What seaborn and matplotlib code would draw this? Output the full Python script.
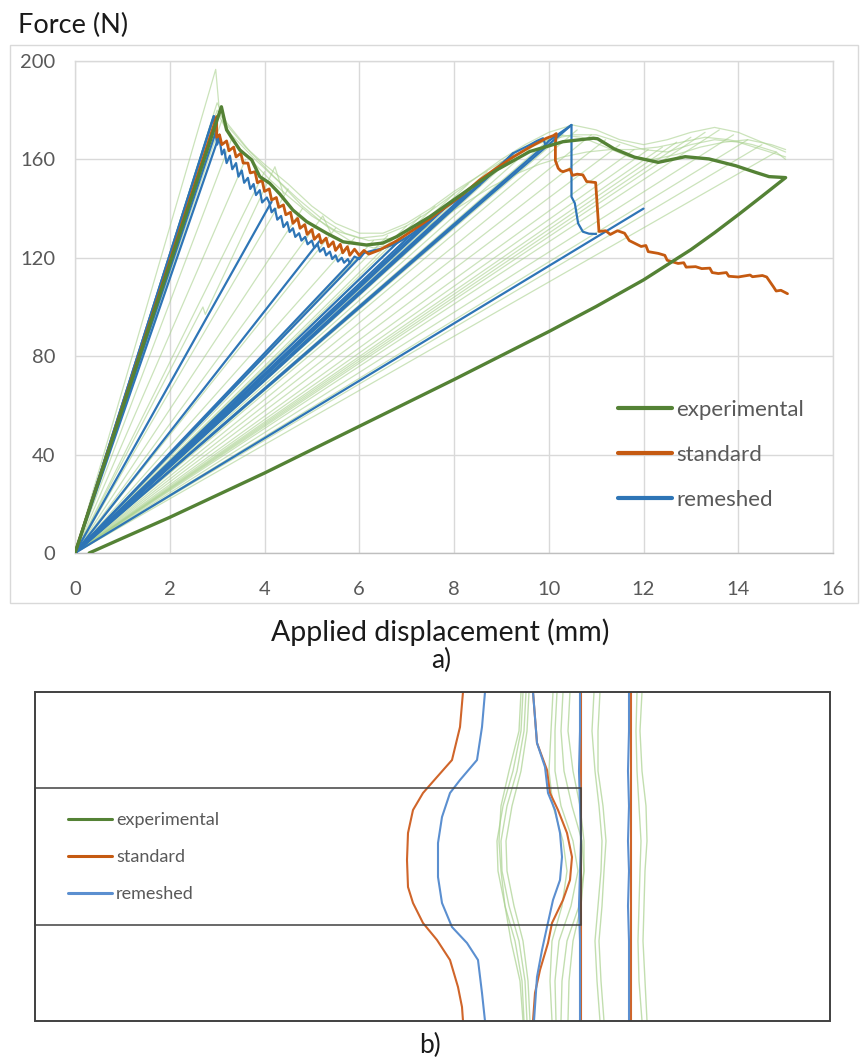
import numpy as np
import pandas as pd
import matplotlib
matplotlib.use("Agg")
import matplotlib.pyplot as plt
import seaborn as sns
from matplotlib.lines import Line2D
from matplotlib.patches import Rectangle

# ---------------- colours ----------------
GREEN = "#548235"
ORANGE = "#c55a11"
BLUE = "#2e75b6"
PALE = "#a9d18e"
ORANGE_B = "#d0652a"
BLUE_B = "#5b8fd0"
GRID = "#d9d9d9"
TXT = "#595959"

# ---------------- a) force / displacement ----------------
# mean experimental curve (loading, softening, unloading)
exp_x = [0, 3.09, 3.2, 3.48, 3.73, 3.9, 4.11, 4.32, 4.6, 4.89, 5.31, 5.66, 6.0, 6.15, 6.5, 6.79,
         7.49, 8.19, 8.9, 9.6, 10.3, 10.94, 11.03, 11.38, 11.81, 12.31, 12.88, 13.38, 13.95,
         14.37, 14.65, 15.0, 14.5, 14.0, 13.5, 13.0, 12.0, 11.0, 10.0, 8.0, 6.0, 4.0, 2.0, 1.0, 0.3]
exp_y = [0, 181.4, 172, 163.8, 159.8, 153, 150.3, 146, 139.4, 134.7, 130, 126.5, 125.6, 125.2, 126,
         128.6, 136.7, 146.2, 155.7, 163.2, 167.2, 168.6, 168.4, 164.3, 160.9, 158.8, 161.1, 160.2,
         157.4, 154.7, 153, 152.6, 145, 137.5, 130.2, 123.3, 111, 100.2, 90, 70.5, 51.5, 32.5, 14.5,
         6, 0]

# standard model
std_x = [0, 2.99, 2.99, 3.05, 3.1, 3.2, 3.25, 3.35, 3.4, 3.5, 3.55, 3.65, 3.7, 3.8, 3.85, 3.95,
         4.0, 4.1, 4.15, 4.25, 4.3, 4.4, 4.45, 4.55, 4.6, 4.7, 4.75, 4.85, 4.9, 5.0, 5.05, 5.15,
         5.2, 5.3, 5.35, 5.45, 5.5, 5.6, 5.65, 5.75, 5.8, 5.9, 6.0, 6.1, 6.2, 6.43, 6.8, 7.14,
         7.5, 7.84, 8.2, 8.54, 8.9, 9.25, 9.6, 9.95, 10.1, 10.16, 10.14, 10.14, 10.2, 10.25, 10.3,
         10.45, 10.5, 10.6, 10.72, 10.8, 10.99, 11.06, 11.2, 11.3, 11.45, 11.6, 11.7, 11.95,
         12.05, 12.1, 12.31, 12.45, 12.5, 12.73, 12.85, 12.9, 13.1, 13.23, 13.4, 13.45, 13.58,
         13.75, 13.8, 14.0, 14.25, 14.3, 14.51, 14.6, 14.65, 14.75, 14.8, 14.9, 15.04]
std_y = [0, 177.4, 169, 170, 166, 167.5, 163.5, 165, 161, 162.5, 158.5, 158.5, 154.5, 155, 150.5,
         151.5, 147, 148, 143.5, 144.5, 140.5, 141.5, 137.5, 138.5, 134, 136, 132, 133.5, 129.5,
         131.5, 127.5, 129.5, 126, 128, 124.5, 126.5, 123, 125.5, 122, 124.5, 121, 123.5, 121,
         123, 121.5, 123.2, 127, 131.3, 136, 140.8, 146, 151.6, 156.5, 161, 165, 168.6, 169.7,
         170.5, 166.5, 159.5, 156.4, 155.4, 155, 156, 153.5, 154, 153.7, 151, 150.6, 130.7, 131,
         129.5, 131, 130, 127, 124.6, 125, 122.5, 121.8, 121, 119, 117.7, 118, 116.2, 116.4,
         115.6, 115.8, 114, 113.6, 114, 112.5, 112.2, 113, 112.3, 112.8, 112.2, 110.8, 108,
         106.5, 106.8, 105.4]

# remeshed model
rem_x = [0, 2.93, 2.97, 3.0, 3.05, 3.1, 3.15, 3.2, 3.27, 3.32, 3.4, 3.45, 3.52, 3.57, 3.65, 3.7,
         3.77, 3.82, 3.9, 3.95, 4.05, 4.1, 4.15, 4.22, 4.27, 4.35, 4.4, 4.48, 4.53, 4.6, 4.65,
         4.73, 4.78, 4.86, 4.91, 5.0, 5.05, 5.12, 5.17, 5.25, 5.3, 5.38, 5.43, 5.5, 5.55, 5.63,
         5.68, 5.76, 5.8, 5.9, 6.0, 6.1, 6.3, 6.5, 6.79, 7.1, 7.49, 7.84, 8.2, 8.54, 8.9, 9.25,
         9.6, 9.75, 9.88, 9.93, 10.0, 10.48, 10.48, 10.55, 10.62, 10.72, 10.85, 11.0]
rem_y = [0, 177.6, 171, 166, 168.5, 162, 164, 158.5, 161.5, 156, 158.5, 153, 155.5, 150.5, 152.5,
         148, 150, 145.5, 147.5, 142.5, 144.5, 142.5, 138.5, 140, 135.5, 137, 132.5, 134.5, 130.5,
         132, 128.5, 130, 127, 128.5, 125.5, 127, 124, 125.5, 122.5, 124, 121, 122.5, 119.5,
         121, 118.5, 120, 118, 119.5, 117.8, 120.5, 119.5, 122, 123, 123.8, 125.9, 129.5, 135.4,
         140.8, 145, 149.6, 156, 162.5, 165.9, 167.5, 168.6, 165.9, 167.5, 174, 144.8, 142.2,
         134, 130.6, 129.8, 129.7]
# remeshed unloading points (secant lines back to the origin)
rem_fan_x = [2.93, 2.97, 3.05, 4.15, 5.17, 5.8, 6.1, 6.79, 7.1, 7.49, 7.84, 8.2, 8.54, 9.25,
             9.93, 10.48, 12.0]
rem_fan_y = [177.6, 171, 170, 142.8, 127, 117.8, 122, 125.9, 129.5, 135.4, 140.8, 145, 149.6,
             162.5, 165.9, 174, 140]

# individual specimens (pale)
spec_a_x = [0, 2.97, 3.06, 3.3, 3.7, 4.1, 4.5, 5.0, 5.5, 6.0, 6.5, 7.0, 7.5, 8.0, 8.5, 9.0, 9.5,
            10.0, 10.5, 11.0, 11.5, 12.0, 12.5, 13.0, 13.5, 14.0, 14.5, 15.0]
spec_a_y = [0, 196.6, 177, 168, 160, 152, 145, 137, 131, 128, 129, 133, 139, 146, 153, 160, 166,
            171, 174, 172, 168, 166, 168, 171, 173, 171, 167, 163]
spec_b_x = [0, 3.0, 3.2, 3.6, 4.0, 4.5, 5.0, 5.5, 6.0, 6.5, 7.0, 7.5, 8.0, 8.5, 9.0, 9.5, 10.0,
            10.5, 11.0, 11.5, 12.0, 12.5, 13.0, 13.5, 14.0, 14.5, 15.0]
spec_b_y = [0, 180, 174, 165, 158, 150, 141, 134, 130, 130, 134, 140, 147, 153, 159, 164, 168,
            170, 170, 167, 164, 163, 166, 168, 167, 164, 161]
spec_c_x = [0, 3.1, 3.3, 3.8, 4.3, 4.8, 5.3, 5.8, 6.3, 6.8, 7.3, 7.8, 8.3, 8.8, 9.3, 9.8, 10.3,
            10.8, 11.3, 11.8, 12.3, 12.8, 13.3, 13.8, 14.3, 14.8, 15.0]
spec_c_y = [0, 176, 170, 160, 151, 141, 133, 127, 124, 126, 131, 137, 143, 149, 154, 158, 161,
            163, 164, 164, 165, 167, 169, 168, 166, 163, 160]
spec_d_x = [0, 3.0, 3.2, 3.7, 4.2, 4.7, 5.2, 5.7, 6.2, 6.7, 7.2, 7.7, 8.2, 8.7, 9.2, 9.7, 10.2,
            10.7, 11.2, 11.7, 12.2, 12.7, 13.2, 13.7, 14.2, 14.7, 15.0]
spec_d_y = [0, 183, 175, 163, 153, 144, 136, 130, 127, 128, 132, 139, 146, 153, 160, 166, 170,
            169, 165, 161, 160, 162, 165, 167, 168, 166, 164]
# reload overshoots
spike_1_x = [0, 2.7, 2.75, 4.22, 4.4]
spike_1_y = [0, 100, 97, 157, 146]
spike_2_x = [0, 5.23, 5.4]
spike_2_y = [0, 137, 130]
# experimental unloading points
exp_fan_x = [3.3, 3.6, 4.0, 4.5, 4.8, 5.5, 5.9, 6.3, 6.6, 7.0, 7.3, 7.6, 8.0, 8.3, 8.7, 9.0, 9.3,
             9.7, 10.0, 10.3, 10.6, 10.9, 11.2, 11.5, 11.8, 12.1, 12.4, 12.7, 13.0, 13.3, 13.6,
             13.9, 14.2, 14.5, 14.8]
exp_fan_y = [168, 160, 155, 148, 140, 132, 128, 127, 129, 133, 137, 141, 146, 150, 155, 159, 162,
             166, 168, 170, 172, 170, 168, 166, 164, 164, 165, 167, 169, 171, 172, 170, 168, 166,
             163]

# ---------------- b) crack fronts (plate coordinates) ----------------
plate_w, plate_h = 795, 329
inner_w, inner_y0, inner_y1 = 546, 96, 233

std_front_1_x = [428, 425, 417, 402, 388, 378, 373, 372, 373, 378, 388, 402, 415, 423, 427, 428]
std_front_1_y = [329, 294, 261, 244, 228, 211, 188, 161, 134, 118, 98, 81, 61, 34, 14, 0]
rem_front_1_x = [450, 447, 442, 425, 415, 407, 403, 403, 407, 417, 432, 443, 447, 450]
rem_front_1_y = [329, 294, 261, 241, 228, 204, 178, 144, 118, 94, 78, 61, 28, 0]
std_front_2_x = [498, 502, 512, 515, 523, 532, 537, 535, 528, 517, 513, 505, 500, 498]
std_front_2_y = [329, 278, 251, 228, 211, 188, 164, 141, 121, 98, 78, 51, 28, 0]
rem_front_2_x = [498, 502, 510, 513, 520, 525, 527, 525, 518, 512, 507, 502, 499]
rem_front_2_y = [329, 278, 254, 228, 211, 188, 164, 141, 121, 94, 71, 44, 0]
front_levels = [329, 290, 250, 215, 180, 150, 115, 80, 40, 0]
std_front_3_x = [546, 546, 546, 546, 546, 546, 546, 546, 546, 546]
rem_front_3_x = [545, 545, 544, 545, 546, 545, 544, 545, 545, 545]
std_front_4_x = [596, 596, 596, 596, 596, 596, 596, 596, 596, 596]
rem_front_4_x = [594, 594, 593, 594, 593, 594, 593, 594, 594, 594]
exp_fronts_x = [
    [488, 486, 478, 468, 462, 463, 470, 480, 487, 489],
    [491, 489, 482, 472, 466, 467, 474, 484, 490, 492],
    [494, 492, 486, 477, 471, 472, 479, 488, 493, 495],
    [486, 484, 474, 466, 464, 466, 470, 476, 485, 488],
    [518, 516, 514, 518, 528, 532, 527, 517, 515, 517],
    [522, 520, 520, 526, 538, 543, 536, 524, 520, 521],
    [528, 526, 529, 537, 547, 549, 544, 532, 527, 526],
    [535, 533, 538, 545, 549, 549, 546, 538, 534, 533],
    [559, 557, 560, 564, 567, 566, 563, 560, 562, 565],
    [565, 563, 563, 568, 571, 569, 567, 564, 566, 569],
    [602, 601, 602, 604, 606, 605, 604, 603, 604, 607],
    [607, 605, 607, 611, 612, 610, 609, 608, 610, 612],
]


def long_df(paths):
    frames = [pd.DataFrame({"x": xs, "y": ys, "unit": i}) for i, (xs, ys) in enumerate(paths)]
    return pd.concat(frames, ignore_index=True)


def fan_df(xs, ys):
    return long_df([([0, xe], [0, ye]) for xe, ye in zip(xs, ys)])


def draw(ax, df, **kw):
    sns.lineplot(data=df, x="x", y="y", units="unit", estimator=None, sort=False,
                 legend=False, ax=ax, **kw)


sns.set_theme(style="white")
plt.rcParams['font.family'] = ['Lato', 'DejaVu Sans']

fig = plt.figure(figsize=(8.64, 10.63), dpi=100)
fig.patch.set_facecolor("white")

# chart area border
fig.add_artist(Rectangle((10 / 864, 1 - 603 / 1063), 848 / 864, 558 / 1063, transform=fig.transFigure,
                         fill=False, ec="#d9d9d9", lw=1))

ax = fig.add_axes([75 / 864, 1 - 553 / 1063, 758 / 864, 492 / 1063])

pale = long_df([(spec_a_x, spec_a_y), (spec_b_x, spec_b_y), (spec_c_x, spec_c_y),
                (spec_d_x, spec_d_y), (spike_1_x, spike_1_y), (spike_2_x, spike_2_y)])
draw(ax, pale, color=PALE, lw=0.9, alpha=0.6, zorder=2)
draw(ax, fan_df(exp_fan_x, exp_fan_y), color=PALE, lw=0.9, alpha=0.6, zorder=2)

draw(ax, fan_df(rem_fan_x, rem_fan_y), color=BLUE, lw=1.6, zorder=3)
draw(ax, long_df([(rem_x, rem_y)]), color=BLUE, lw=1.6, zorder=3)
draw(ax, long_df([(std_x, std_y)]), color=ORANGE, lw=2.0, zorder=4)
draw(ax, long_df([(exp_x, exp_y)]), color=GREEN, lw=2.4, zorder=5)

ax.set_xlim(0, 16)
ax.set_ylim(0, 200)
ax.set_xticks(range(0, 17, 2))
ax.set_yticks(range(0, 201, 40))
ax.grid(True, color=GRID, lw=1)
ax.set_axisbelow(True)
for s in ax.spines.values():
    s.set_color(GRID)
    s.set_linewidth(1)
ax.spines["bottom"].set_color("#bfbfbf")
ax.tick_params(axis="both", length=0, labelsize=14.5, labelcolor=TXT)
ax.tick_params(axis="x", pad=20)
ax.tick_params(axis="y", pad=14)
ax.set_xlabel("")
ax.set_ylabel("")

handles = [Line2D([], [], color=GREEN, lw=3), Line2D([], [], color=ORANGE, lw=3),
           Line2D([], [], color=BLUE, lw=3)]
labels = ["experimental", "standard", "remeshed"]
leg = ax.legend(handles, labels, loc="center left", bbox_to_anchor=(0.716, 0.199), frameon=False,
                fontsize=16, handlelength=2.43, handletextpad=0.22, labelspacing=1.12,
                borderpad=0, borderaxespad=0)
for t in leg.get_texts():
    t.set_color(TXT)

fig.text(18 / 864, 1 - 25 / 1063, "Force (N)", fontsize=19.5, color="#1a1a1a", ha="left",
         va="center")
fig.text(440 / 864, 1 - 632 / 1063, "Applied displacement (mm)", fontsize=20.5, color="#1a1a1a",
         ha="center", va="center")
fig.text(441 / 864, 1 - 660 / 1063, "a)", fontsize=19, color="#1a1a1a", ha="center", va="center")

# ---------------- b) ----------------
bx = fig.add_axes([35 / 864, 1 - 1021 / 1063, 795 / 864, 329 / 1063])
bx.set_xlim(0, plate_w)
bx.set_ylim(0, plate_h)
bx.axis("off")

draw(bx, long_df([(xs, front_levels) for xs in exp_fronts_x]), color=PALE, lw=1.0, alpha=0.7,
     zorder=2)
draw(bx, long_df([(std_front_1_x, std_front_1_y), (std_front_2_x, std_front_2_y),
                  (std_front_3_x, front_levels), (std_front_4_x, front_levels)]),
     color=ORANGE_B, lw=1.5, zorder=3)
draw(bx, long_df([(rem_front_1_x, rem_front_1_y), (rem_front_2_x, rem_front_2_y),
                  (rem_front_3_x, front_levels), (rem_front_4_x, front_levels)]),
     color=BLUE_B, lw=1.5, zorder=3)

bx.add_patch(Rectangle((0, 0), plate_w, plate_h, fill=False, ec="#404040", lw=1.4, clip_on=False,
                       zorder=5))
bx.add_patch(Rectangle((0, inner_y0), inner_w, inner_y1 - inner_y0, fill=False, ec="#404040",
                       lw=1.1, clip_on=False, zorder=5))

bhandles = [Line2D([], [], color=GREEN, lw=2.2), Line2D([], [], color=ORANGE, lw=2.2),
            Line2D([], [], color=BLUE_B, lw=2.2)]
bleg = bx.legend(bhandles, labels, loc="center left", bbox_to_anchor=(0.0415, 0.4985),
                 frameon=False, fontsize=13, handlelength=2.45, handletextpad=0.22,
                 labelspacing=1.16, borderpad=0, borderaxespad=0)
for t in bleg.get_texts():
    t.set_color(TXT)

fig.text(430 / 864, 1 - 1045 / 1063, "b)", fontsize=19, color="#1a1a1a", ha="center", va="center")

fig.savefig("out.png", dpi=100, facecolor="white")
